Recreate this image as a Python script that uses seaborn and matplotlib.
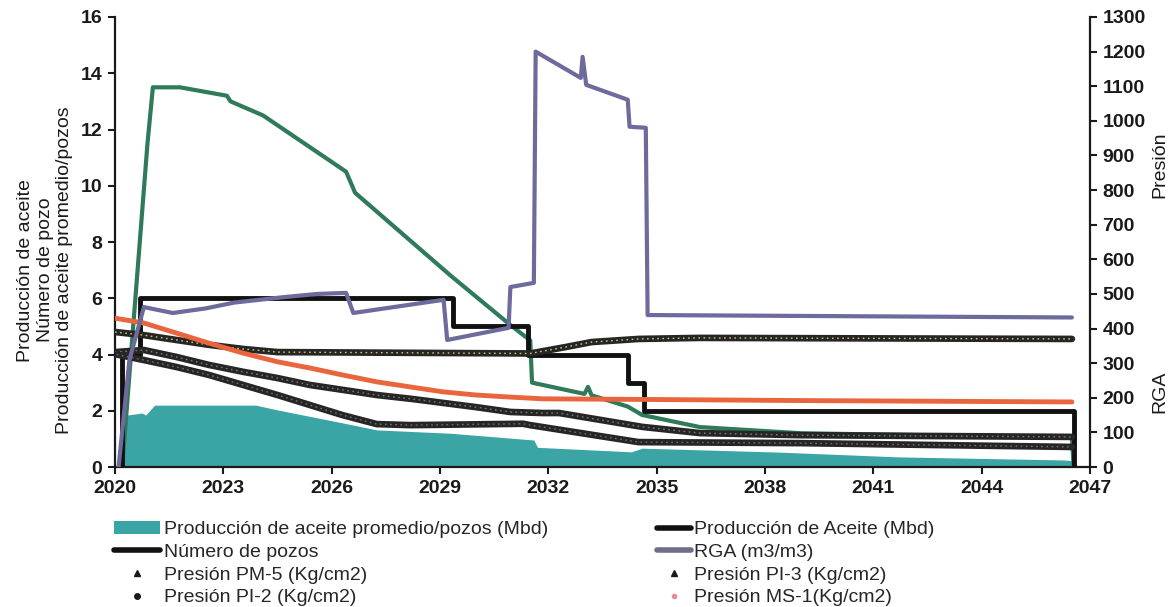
import matplotlib
matplotlib.use("Agg")
import matplotlib.pyplot as plt
from matplotlib.lines import Line2D
from matplotlib.patches import Patch
import seaborn as sns

# --- data -------------------------------------------------------------
# average oil production per well (Mbd), left axis
yr_avg = [2020.1, 2020.35, 2020.75, 2020.85, 2021.1, 2023.9, 2024.5, 2026.3,
          2027.25, 2029.3, 2031.6, 2031.7, 2034.3, 2034.6, 2038.4, 2041.7,
          2046.3, 2046.55, 2046.6]
avg_prod = [0, 1.85, 1.92, 1.85, 2.2, 2.2, 2.03, 1.57,
            1.32, 1.2, 0.96, 0.7, 0.54, 0.67, 0.53, 0.36,
            0.25, 0.22, 0]

# oil production (Mbd), left axis
yr_oil = [2020.2, 2020.9, 2021.05, 2021.8, 2023.1, 2023.2, 2024.1, 2026.4,
          2026.65, 2029.3, 2030.95, 2031.5, 2031.55, 2033.0, 2033.1, 2033.2,
          2034.2, 2034.6, 2036.2, 2039.0, 2046.5, 2046.55]
oil_prod = [0, 11.5, 13.5, 13.5, 13.2, 13.0, 12.5, 10.5,
            9.75, 6.8, 5.05, 4.5, 3.0, 2.6, 2.85, 2.55,
            2.15, 1.85, 1.42, 1.2, 1.05, 0]

# number of wells (step changes), left axis
yr_wells = [2020.1, 2020.2, 2020.7, 2029.35, 2031.45, 2034.2, 2034.65, 2046.55]
n_wells = [0, 4, 6, 5, 4, 3, 2, 0]

# gas-oil ratio (m3/m3), right axis
yr_rga = [2020.1, 2020.4, 2020.8, 2021.6, 2022.5, 2023.3, 2024.6, 2025.6,
          2026.4, 2026.6, 2029.1, 2029.2, 2030.9, 2030.95, 2031.6, 2031.65,
          2032.9, 2032.95, 2033.05, 2034.2, 2034.25, 2034.7, 2034.75, 2046.5]
rga = [0, 309, 462, 445, 458, 475, 490, 500,
       503, 445, 483, 367, 402, 520, 532, 1200,
       1124, 1185, 1104, 1061, 983, 980, 439, 432]

# pressures (Kg/cm2), right axis
yr_pi3 = [2020.0, 2020.8, 2021.7, 2022.6, 2023.55, 2024.5, 2031.5, 2032.5,
          2033.2, 2034.5, 2036.2, 2046.5]
p_pi3 = [390, 381, 367, 353, 341, 332, 328, 347,
         361, 370, 373, 370]

yr_ms1 = [2020.0, 2020.8, 2021.7, 2022.6, 2023.55, 2024.5, 2025.4, 2026.3,
          2027.25, 2028.2, 2029.1, 2030.0, 2030.95, 2031.85, 2035.0, 2039.0,
          2046.5]
p_ms1 = [430, 416, 387, 358, 329, 304, 286, 266,
         246, 231, 217, 208, 202, 197, 195, 192,
         188]

yr_pm5 = [2020.0, 2020.8, 2021.7, 2022.6, 2023.55, 2024.5, 2025.4, 2026.3,
          2027.25, 2028.2, 2029.1, 2030.0, 2030.95, 2031.85, 2032.3, 2034.6,
          2036.2, 2039.0, 2046.5]
p_pm5 = [332, 338, 318, 295, 275, 257, 237, 223,
         208, 197, 185, 173, 159, 156, 156, 116,
         98, 92, 87]

yr_pi2 = [2020.05, 2020.8, 2021.7, 2022.6, 2023.55, 2024.5, 2025.4, 2026.3,
          2027.25, 2028.2, 2031.3, 2031.5, 2034.5, 2039.0, 2046.5]
p_pi2 = [325, 309, 289, 266, 237, 208, 179, 150,
         124, 121, 125, 121, 72, 69, 58]

x_ticks = list(range(2020, 2048, 3))
left_ticks = list(range(0, 17, 2))
right_ticks = list(range(0, 1301, 100))

# --- style ------------------------------------------------------------
sns.set_theme(style="ticks")
plt.rcParams["font.family"] = ["Liberation Sans", "DejaVu Sans"]

TEAL = "#3ba4a5"
GREEN = "#2f7a58"
PURPLE = "#6d6a9c"
ORANGE = "#e9653d"
DARK = "#262626"
INK = "#1a1a1a"

fig = plt.figure(figsize=(11.72, 6.07), dpi=100)
ax = fig.add_axes([0.0981, 0.2306, 0.8319, 0.7414])
ax2 = ax.twinx()

# left axis series
ax.fill_between(yr_avg, avg_prod, color=TEAL, lw=0, zorder=1)
sns.lineplot(x=yr_oil, y=oil_prod, ax=ax, color=GREEN, lw=3,
             estimator=None, sort=False, zorder=3)
sns.lineplot(x=yr_wells, y=n_wells, ax=ax, color="#111111", lw=3.5,
             drawstyle="steps-post", estimator=None, sort=False, zorder=4)

# right axis series
for yrs, vals, dot in [(yr_pm5, p_pm5, "#7a7a7a"),
                       (yr_pi2, p_pi2, "#7a6a6a"),
                       (yr_pi3, p_pi3, "#d8c266")]:
    sns.lineplot(x=yrs, y=vals, ax=ax2, color=DARK, lw=4.8,
                 estimator=None, sort=False)
    sns.lineplot(x=yrs, y=vals, ax=ax2, color=dot, lw=1.0,
                 linestyle=(0, (1.2, 2.5)), estimator=None, sort=False)
sns.lineplot(x=yr_ms1, y=p_ms1, ax=ax2, color=ORANGE, lw=3.5,
             estimator=None, sort=False)
sns.lineplot(x=yr_rga, y=rga, ax=ax2, color=PURPLE, lw=3,
             estimator=None, sort=False)

# axes
ax.set_xlim(2020, 2047)
ax.set_ylim(0, 16)
ax2.set_ylim(0, 1300)
ax.set_xticks(x_ticks)
ax.set_yticks(left_ticks)
ax2.set_yticks(right_ticks)
for a in (ax, ax2):
    a.set_xlabel("")
    a.set_ylabel("")
    a.spines["top"].set_visible(False)
    for s in a.spines.values():
        s.set_linewidth(1.6)
        s.set_color(INK)
    a.tick_params(direction="out", length=5, width=1.5, labelsize=14,
                  colors=INK, pad=4)
    for lbl in a.get_xticklabels() + a.get_yticklabels():
        lbl.set_fontweight("bold")
ax.spines["right"].set_visible(False)
ax2.spines["left"].set_visible(False)
ax2.spines["bottom"].set_visible(False)

# axis titles
fig.text(0.0384, 0.555,
         "Producción de aceite\nNúmero de pozo\nProducción de aceite promedio/pozos",
         rotation=90, ha="center", va="center", multialignment="center",
         fontsize=14, linespacing=1.2, color=INK)
fig.text(0.9898, 0.728, "Presión", rotation=90, ha="center", va="center",
         fontsize=14, color=INK)
fig.text(0.9898, 0.354, "RGA", rotation=90, ha="center", va="center",
         fontsize=14, color=INK)

# legend in two columns below the plot
h_left = [
    Patch(facecolor=TEAL, edgecolor="none"),
    Line2D([], [], color="#111111", lw=4),
    Line2D([], [], color=INK, marker="^", ls="none", markersize=5),
    Line2D([], [], color=INK, marker="o", ls="none", markersize=4),
]
l_left = ["Producción de aceite promedio/pozos (Mbd)", "Número de pozos",
          "Presión PM-5 (Kg/cm2)", "Presión PI-2 (Kg/cm2)"]
h_right = [
    Line2D([], [], color="#111111", lw=4),
    Line2D([], [], color="#6e6e8c", lw=4),
    Line2D([], [], color=INK, marker="^", ls="none", markersize=5),
    Line2D([], [], color="#e88a9a", marker="o", ls="none", markersize=3),
]
l_right = ["Producción de Aceite (Mbd)", "RGA (m3/m3)",
           "Presión PI-3 (Kg/cm2)", "Presión MS-1(Kg/cm2)"]

common = dict(loc="upper left", frameon=False, fontsize=14, borderpad=0,
              borderaxespad=0, labelspacing=0.26, handletextpad=0.2,
              handleheight=0.7)
leg1 = fig.legend(h_left, l_left, bbox_to_anchor=(0.097, 0.142),
                  handlelength=2.4, **common)
leg2 = fig.legend(h_right, l_right, bbox_to_anchor=(0.561, 0.142),
                  handlelength=1.7, **common)

fig.savefig("out.png", dpi=100)
